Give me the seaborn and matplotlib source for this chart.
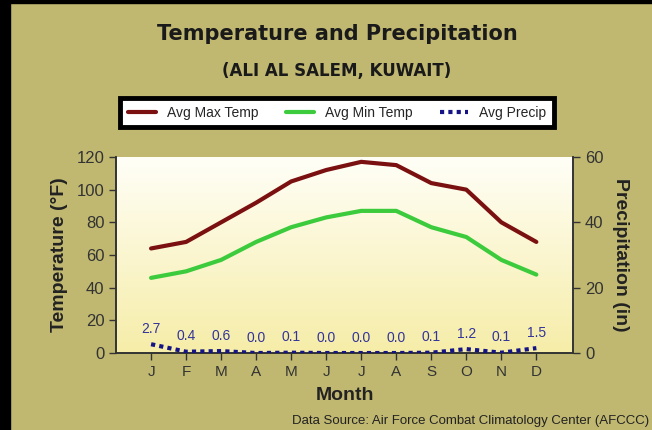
import matplotlib as mpl
import matplotlib.pyplot as plt
import seaborn as sns
import pandas as pd
import numpy as np
from matplotlib.lines import Line2D
from matplotlib.colors import LinearSegmentedColormap

# Data
months = ['J', 'F', 'M', 'A', 'M', 'J', 'J', 'A', 'S', 'O', 'N', 'D']
max_temp = [64, 68, 80, 92, 105, 112, 117, 115, 104, 100, 80, 68]
min_temp = [46, 50, 57, 68, 77, 83, 87, 87, 77, 71, 57, 48]
precip = [2.7, 0.4, 0.6, 0.0, 0.1, 0.0, 0.0, 0.0, 0.1, 1.2, 0.1, 1.5]

sns.set_style("white")
plt.rcParams['font.family'] = ['Liberation Sans', 'DejaVu Sans']

BG = '#C0B871'
MAX_C = '#7B1010'
MIN_C = '#3CCB3C'
PRE_C = '#141487'

df = pd.DataFrame({"idx": range(len(months)), "Max": max_temp, "Min": min_temp, "Precip": precip})

fig = plt.figure(figsize=(6.52, 4.30), dpi=100, facecolor=BG)
ax = fig.add_axes([0.178, 0.179, 0.701, 0.456])

# background gradient of the plotting area
cmap = LinearSegmentedColormap.from_list("bg", ['#FFFFF8', '#F6EDA8'])
grad = np.linspace(0, 1, 256).reshape(-1, 1)
ax.imshow(grad, cmap=cmap, aspect='auto', extent=[-1, 12.05, 0, 120], zorder=0)

sns.lineplot(data=df, x="idx", y="Max", ax=ax, color=MAX_C, linewidth=3, zorder=3)
sns.lineplot(data=df, x="idx", y="Min", ax=ax, color=MIN_C, linewidth=3, zorder=3)
ax.set_xlim(-1, 12.05)
ax.set_ylim(0, 120)
ax.set_xticks(df["idx"], months, fontsize=11, color='#333333')
ax.set_yticks(np.arange(0, 121, 20), np.arange(0, 121, 20), fontsize=12, color='#333333')
ax.set_xlabel('Month', fontsize=14, fontweight='bold', color='#222222', labelpad=6)
ax.set_ylabel('Temperature (°F)', fontsize=14, fontweight='bold', color='#222222', labelpad=6)
ax.tick_params(axis='both', direction='out', length=5, width=1, color='#333333', left=True, bottom=True)

ax2 = ax.twinx()
sns.lineplot(data=df, x="idx", y="Precip", ax=ax2, color=PRE_C, linewidth=3,
             linestyle=(0, (1, 1)), zorder=4)
ax2.set_ylim(0, 60)
ax2.set_yticks(np.arange(0, 61, 20), np.arange(0, 61, 20), fontsize=12, color='#333333')
ax2.tick_params(axis='y', direction='out', length=5, width=1, color='#333333', right=True)
ax2.set_ylabel('Precipitation (in)', fontsize=14, fontweight='bold', color='#222222',
               rotation=-90, labelpad=18)
ax2.set_xlim(-1, 12.05)

for i, v in enumerate(precip):
    ax2.annotate(f"{v:.1f}", (i, v), xytext=(0, 6), textcoords='offset points',
                 ha='center', va='bottom', fontsize=10, color='#33339A')

for a in (ax, ax2):
    for s in a.spines.values():
        s.set_color('#333333')
        s.set_linewidth(1.2)
    a.spines['top'].set_visible(False)

# Titles
fig.text(0.517, 0.922, 'Temperature and Precipitation', ha='center', va='center',
         fontsize=15, fontweight='bold', color='#1a1a1a', family=['DejaVu Sans'])
fig.text(0.517, 0.835, '(ALI AL SALEM, KUWAIT)', ha='center', va='center',
         fontsize=12, fontweight='bold', color='#1a1a1a', family=['DejaVu Sans'])

# Legend
handles = [Line2D([], [], color=MAX_C, linewidth=3),
           Line2D([], [], color=MIN_C, linewidth=3),
           Line2D([], [], color=PRE_C, linewidth=3, linestyle=(0, (1, 1)))]
leg = fig.legend(handles=handles, labels=['Avg Max Temp', 'Avg Min Temp', 'Avg Precip'],
                 loc='center', bbox_to_anchor=(0.517, 0.738), ncol=3, fontsize=10,
                 frameon=True, fancybox=False, edgecolor='black', facecolor='white',
                 framealpha=1, handlelength=2, columnspacing=2.0, borderpad=0.55,
                 borderaxespad=0)
leg.get_frame().set_linewidth(3.5)

fig.text(0.995, 0.022, 'Data Source: Air Force Combat Climatology Center (AFCCC)',
         fontsize=9.5, color='#222222', ha='right', va='center')

# black edge of the screenshot on the left and top
fig.add_artist(plt.Rectangle((0, 0), 0.015, 1, transform=fig.transFigure, color='black'))
fig.add_artist(plt.Rectangle((0, 0.992), 1, 0.008, transform=fig.transFigure, color='black'))

plt.savefig("out.png", dpi=100, facecolor=BG)
plt.close()
